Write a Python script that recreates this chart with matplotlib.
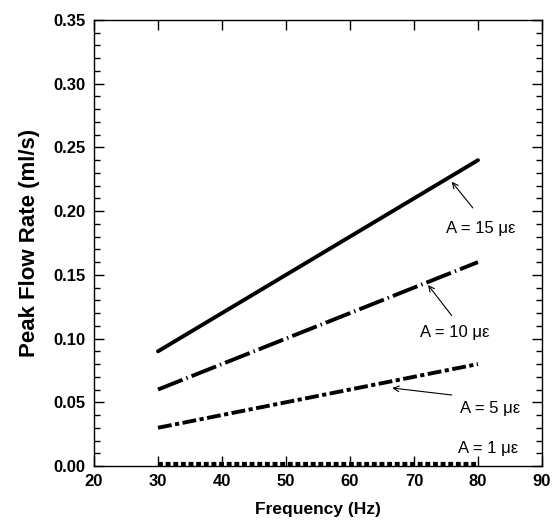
import matplotlib
matplotlib.use("Agg")
import matplotlib.pyplot as plt
from matplotlib.ticker import MultipleLocator

# data
freq = [30, 35, 40, 45, 50, 55, 60, 65, 70, 75, 80]
flow_15 = [0.090, 0.105, 0.120, 0.135, 0.150, 0.165, 0.180, 0.195, 0.210, 0.225, 0.240]
flow_10 = [0.060, 0.070, 0.080, 0.090, 0.100, 0.110, 0.120, 0.130, 0.140, 0.150, 0.160]
flow_5 = [0.030, 0.035, 0.040, 0.045, 0.050, 0.055, 0.060, 0.065, 0.070, 0.075, 0.080]
flow_1 = [0.0015, 0.0015, 0.0015, 0.0015, 0.0015, 0.0015, 0.0015, 0.0015, 0.0015, 0.0015, 0.0015]

labels = ["A = 15 \u03bc\u03b5", "A = 10 \u03bc\u03b5", "A = 5 \u03bc\u03b5", "A = 1 \u03bc\u03b5"]


def main():
    plt.rcParams['font.family'] = ['Liberation Sans', 'DejaVu Sans']
    plt.rcParams['lines.scale_dashes'] = False

    fig = plt.figure(figsize=(5.54, 5.22), dpi=100)
    ax = fig.add_axes([0.1697, 0.1073, 0.8086, 0.8544])

    ax.plot(freq, flow_15, color='black', lw=2.8, solid_capstyle='round')
    l10, = ax.plot(freq, flow_10, color='black', lw=2.8)
    l10.set_dashes([19, 3, 1, 3])
    l5, = ax.plot(freq, flow_5, color='black', lw=2.8)
    l5.set_dashes([10, 2.5, 3, 2.5])
    l1, = ax.plot(freq, flow_1, color='black', lw=3.0, clip_on=False)
    l1.set_dashes([3.5, 2])

    arrow = dict(arrowstyle='->', lw=0.8, color='black', shrinkA=0, shrinkB=0)
    ax.annotate('', xy=(75.9, 0.223), xytext=(79.2, 0.2025), arrowprops=arrow)
    ax.annotate('', xy=(72.2, 0.142), xytext=(75.9, 0.118), arrowprops=arrow)
    ax.annotate('', xy=(66.6, 0.0612), xytext=(75.9, 0.0557), arrowprops=arrow)

    txt = dict(fontsize=12, ha='center', va='center')
    ax.text(80.5, 0.186, labels[0], **txt)
    ax.text(76.4, 0.105, labels[1], **txt)
    ax.text(81.9, 0.0455, labels[2], **txt)
    ax.text(81.6, 0.014, labels[3], **txt)

    ax.set_xlim(20, 90)
    ax.set_ylim(0, 0.35)
    ax.xaxis.set_major_locator(MultipleLocator(10))
    ax.yaxis.set_major_locator(MultipleLocator(0.05))
    ax.yaxis.set_minor_locator(MultipleLocator(0.01))
    ax.yaxis.set_major_formatter(plt.FormatStrFormatter('%.2f'))

    ax.tick_params(which='both', direction='in', top=True, right=True, width=1)
    ax.tick_params(which='major', length=7, labelsize=12, pad=6)
    ax.tick_params(which='minor', length=4)
    for lab in ax.get_xticklabels() + ax.get_yticklabels():
        lab.set_fontweight('bold')
    for sp in ax.spines.values():
        sp.set_linewidth(1)

    ax.set_xlabel('Frequency (Hz)', fontsize=12.5, fontweight='bold', labelpad=9)
    ax.set_ylabel('Peak Flow Rate (ml/s)', fontsize=16, fontweight='bold', labelpad=10)

    fig.savefig('out.png', dpi=100)


if __name__ == '__main__':
    main()
